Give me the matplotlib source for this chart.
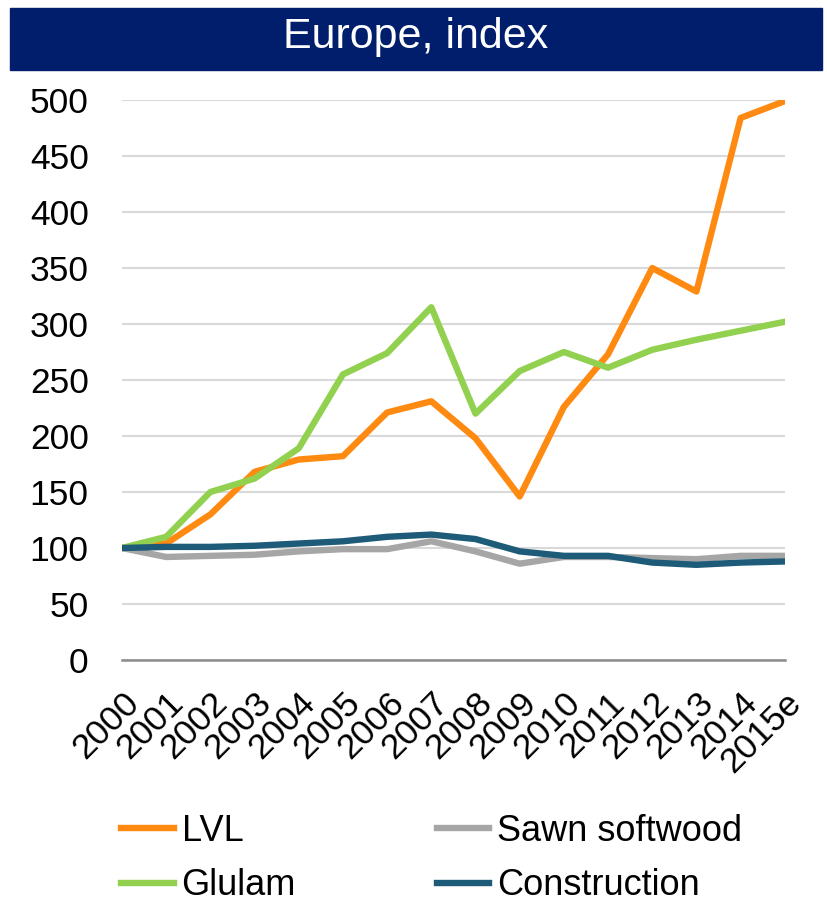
import matplotlib.pyplot as plt
from matplotlib.patches import Rectangle

plt.rcParams['font.family'] = ['Liberation Sans', 'DejaVu Sans']

years = ["2000", "2001", "2002", "2003", "2004", "2005", "2006", "2007",
         "2008", "2009", "2010", "2011", "2012", "2013", "2014", "2015e"]

lvl = [100, 104, 130, 168, 179, 182, 221, 231, 198, 146, 226, 273, 350, 329, 484, 499]
sawn = [100, 92, 93, 94, 97, 99, 99, 106, 97, 86, 92, 92, 91, 90, 93, 93]
glulam = [100, 110, 150, 162, 189, 255, 274, 315, 220, 258, 275, 261, 277, 286, 294, 302]
construction = [100, 101, 101, 102, 104, 106, 110, 112, 108, 97, 93, 93, 87, 85, 87, 88]

colors = {"LVL": "#FF8A12", "Sawn softwood": "#A6A6A6",
          "Glulam": "#92D050", "Construction": "#1D5B78"}

fig = plt.figure(figsize=(8.27, 9.05), dpi=100)
ax = fig.add_axes([0.1475, 0.2707, 0.8015, 0.6188])

x = list(range(len(years)))
lw = 4.6
h_lvl, = ax.plot(x, lvl, color=colors["LVL"], lw=lw, label="LVL",
                 solid_joinstyle="round", zorder=3)
h_sawn, = ax.plot(x, sawn, color=colors["Sawn softwood"], lw=lw,
                  label="Sawn softwood", solid_joinstyle="round", zorder=3)
h_glu, = ax.plot(x, glulam, color=colors["Glulam"], lw=lw, label="Glulam",
                 solid_joinstyle="round", zorder=3)
h_con, = ax.plot(x, construction, color=colors["Construction"], lw=lw,
                 label="Construction", solid_joinstyle="round", zorder=4)

ax.set_xlim(0, len(years) - 1)
ax.set_ylim(0, 500)
ax.set_yticks(range(0, 501, 50))
ax.set_xticks(x)
ax.set_xticklabels(years, rotation=45, ha="right", rotation_mode="anchor")
ax.tick_params(axis="both", length=0, labelsize=25.5)
ax.tick_params(axis="y", pad=24)
ax.tick_params(axis="x", pad=19)
ax.grid(axis="y", color="#D9D9D9", lw=1.5, zorder=0)
for s in ["top", "right", "left"]:
    ax.spines[s].set_visible(False)
ax.spines["bottom"].set_color("#8C8C8C")
ax.spines["bottom"].set_linewidth(1.8)
ax.spines["bottom"].set_zorder(2)

# title banner
fig.patches.append(Rectangle((10 / 827, 1 - 70 / 905), 812 / 827, 62 / 905,
                             transform=fig.transFigure, color="#001E6B",
                             zorder=0))
fig.text(0.503, 1 - 37 / 905, "Europe, index", color="white", fontsize=31,
         ha="center", va="center")

fig.legend([h_lvl, h_glu, h_sawn, h_con],
           ["LVL", "Glulam", "Sawn softwood", "Construction"],
           ncol=2, loc="center", bbox_to_anchor=(0.522, 0.0514),
           frameon=False, fontsize=26, handlelength=1.45, handletextpad=0.22,
           columnspacing=3.9, labelspacing=0.55)

fig.savefig("out.png", dpi=100)
